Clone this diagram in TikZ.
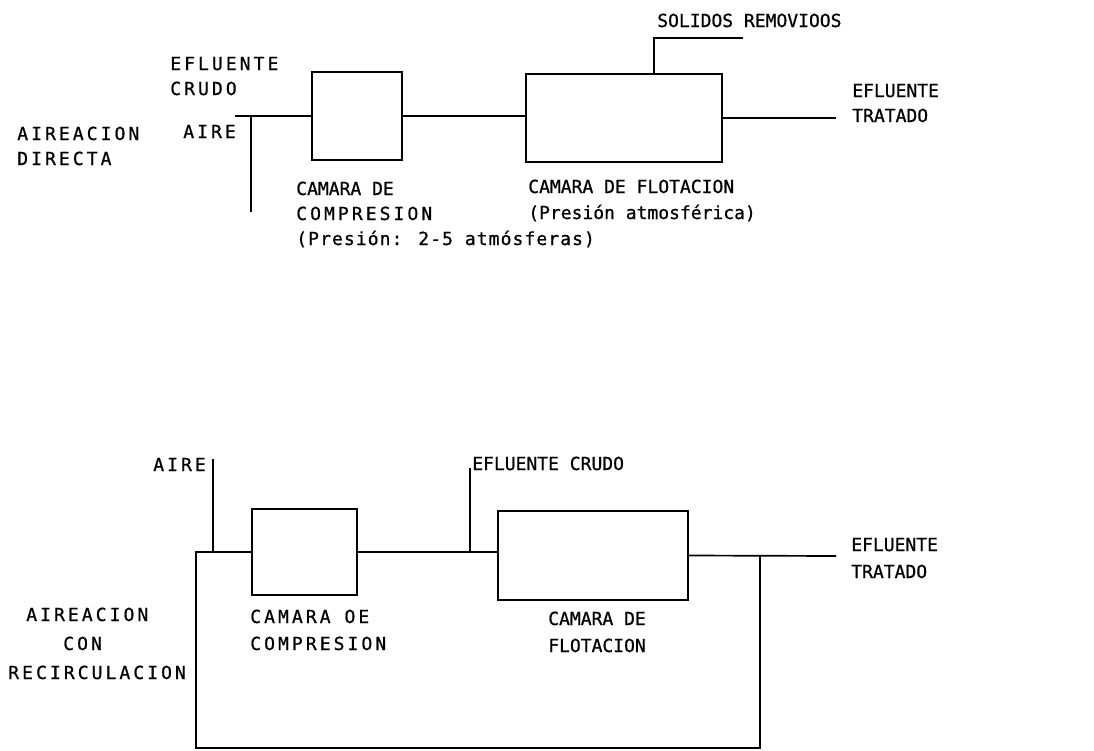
\documentclass[tikz,border=0pt]{standalone}
\usepackage{fontspec}
\newfontfamily\typew[FakeBold=0.8]{DejaVu Sans Mono}
\newfontfamily\typewide[LetterSpace=17,FakeBold=0.8]{DejaVu Sans Mono}
\newfontfamily\typemid[LetterSpace=6,FakeBold=0.8]{DejaVu Sans Mono}
\usetikzlibrary{fit}
\tikzset{
  lbl/.style={anchor=base west, inner sep=0pt, font=\typew\fontsize{12.8}{15}\selectfont},
  wlbl/.style={lbl, font=\typewide\fontsize{12.8}{15}\selectfont},
  mlbl/.style={lbl, font=\typemid\fontsize{12.8}{15}\selectfont},
  chamber/.style={draw, line width=1.4pt, inner sep=0pt},
  pipe/.style={line width=1.2pt}
}
\begin{document}
\begin{tikzpicture}[x=0.025cm, y=-0.025cm]
\useasboundingbox (0,0) rectangle (1094,751);
% ---------- top diagram ----------
\node[chamber, fit={(312,72) (402,160)}] (cc1) {};
\node[chamber, fit={(526,74) (722,162)}] (ff1) {};
\coordinate (in1) at (235,116);
\coordinate (aj1) at (251,116);
\coordinate (ab1) at (251,212);
\coordinate (out1) at (836,118);
\coordinate (sr1) at (654,38);
\coordinate (sr2) at (743,38);
\draw[pipe] (in1) -- (cc1.west);
\draw[pipe] (ab1) -- (aj1);
\draw[pipe] (cc1.east) -- (cc1.east -| ff1.west);
\draw[pipe] (ff1.east) -- (out1);
\draw[pipe] (ff1.north -| sr1) -- (sr1) -- (sr2);
\node[wlbl] (t1) at (170,70) {EFLUENTE};
\node[wlbl] (t2) at (170,95) {CRUDO};
\node[wlbl] (t3) at (17,140) {AIREACION};
\node[wlbl] (t4) at (17,165) {DIRECTA};
\node[wlbl] (t5) at (183,138) {AIRE};
\node[lbl] (t6) at (296,195) {CAMARA DE};
\node[wlbl] (t7) at (296,220) {COMPRESION};
\node[mlbl] (t8) at (296,245) {(Presión: 2-5 atmósferas)};
\node[lbl] (t9) at (528,193) {CAMARA DE FLOTACION};
\node[lbl] (t10) at (528,219) {(Presión atmosférica)};
\node[lbl] (t11) at (657,27) {SOLIDOS REMOVIOOS};
\node[lbl] (t12) at (852,97) {EFLUENTE};
\node[lbl] (t13) at (852,122) {TRATADO};
% ---------- bottom diagram ----------
\node[chamber, fit={(252,509) (357,595)}] (cc2) {};
\node[chamber, fit={(498,511) (688,600)}] (ff2) {};
\coordinate (at2) at (213,459);
\coordinate (lp1) at (196,552);
\coordinate (lp2) at (196,748);
\coordinate (rc) at (760,748);
\coordinate (ec) at (470,468);
\coordinate (out2) at (836,556);
\draw[pipe] (at2) -- (at2 |- cc2.west);
\draw[pipe] (cc2.west) -- (lp1) -- (lp2) -- (rc) -- (rc |- ff2.east);
\draw[pipe] (cc2.east) -- (cc2.east -| ff2.west);
\draw[pipe] (ec) -- (ec |- cc2.east);
\draw[pipe] (ff2.east) -- (out2);
\node[wlbl] (b1) at (153,471) {AIRE};
\node[lbl] (b2) at (472,470) {EFLUENTE CRUDO};
\node[lbl] (b3) at (851,551) {EFLUENTE};
\node[lbl] (b4) at (851,578) {TRATADO};
\node[wlbl] (b5) at (250,623) {CAMARA OE};
\node[wlbl] (b6) at (250,650) {COMPRESION};
\node[lbl] (b7) at (548,625) {CAMARA DE};
\node[lbl] (b8) at (548,652) {FLOTACION};
\node[wlbl] (b9) at (26,621) {AIREACION};
\node[wlbl] (b10) at (63,650) {CON};
\node[wlbl] (b11) at (8,679) {RECIRCULACION};
\end{tikzpicture}
\end{document}
